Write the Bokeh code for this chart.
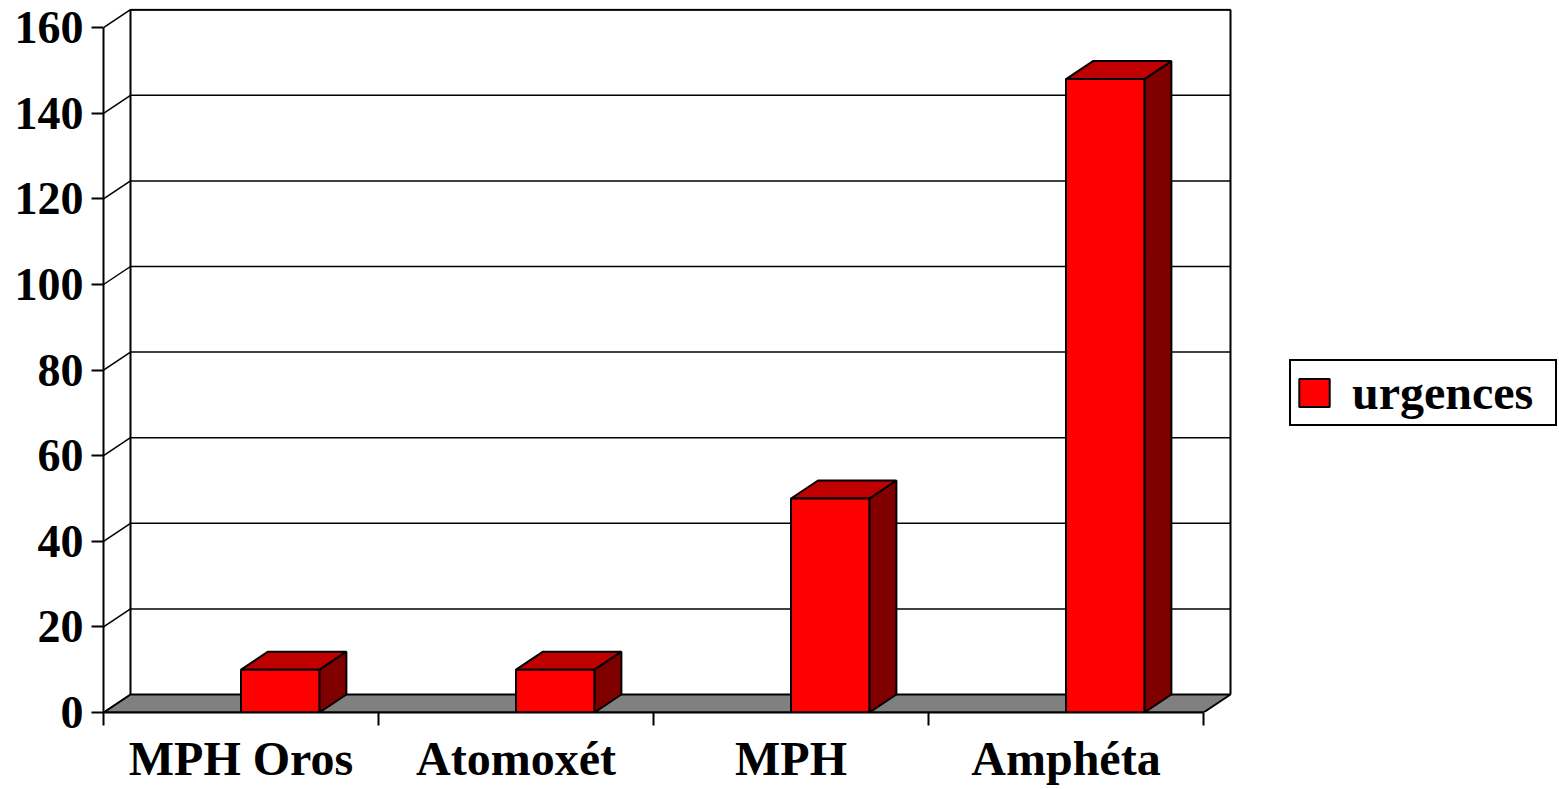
from bokeh.plotting import figure
from bokeh.models import FixedTicker, Range1d, Legend, LegendItem
from bokeh.embed import file_html
from bokeh.resources import INLINE

# ---- data ----
categories = ["MPH Oros", "Atomoxét", "MPH", "Amphéta"]
urgences = [10, 10, 50, 148]
y_ticks = [0, 20, 40, 60, 80, 100, 120, 140, 160]
series_name = "urgences"

# ---- layout (pixels) ----
W, H = 1559, 789
LEFT, BOTTOM, TOP = 103, 712, 8
PX_PER_CAT = 275.0          # width of one category slot on the front plane
PX_PER_UNIT = 4.28          # vertical pixels per value unit
DEPTH_X_PX, DEPTH_Y_PX = 27.0, 18.0   # oblique depth of the 3D box
BAR_START, BAR_END = 0.50, 0.785      # bar front face inside its slot

FONT = "Liberation Serif"
Y_FONT_SIZE = "46px"
X_FONT_SIZE = "48px"

dx = DEPTH_X_PX / PX_PER_CAT
dy = DEPTH_Y_PX / PX_PER_UNIT
n = len(categories)
ymax = y_ticks[-1]

p = figure(
    width=W, height=H, output_backend="svg", toolbar_location=None,
    x_range=Range1d(0, (W - LEFT) / PX_PER_CAT),
    y_range=Range1d(0, (BOTTOM - TOP) / PX_PER_UNIT),
    min_border_left=LEFT, min_border_right=0,
    min_border_top=TOP, min_border_bottom=H - BOTTOM,
    background_fill_color="white", border_fill_color="white",
)
p.outline_line_color = None
p.xgrid.visible = False
p.ygrid.visible = False

# floor
p.patch([0, n, n + dx, dx], [0, 0, dy, dy],
        fill_color="#808080", line_color="black", line_width=2)

# back wall gridlines
grid_vals = y_ticks[1:]
p.segment(x0=[dx] * len(grid_vals), y0=[v + dy for v in grid_vals],
          x1=[n + dx] * len(grid_vals), y1=[v + dy for v in grid_vals],
          line_color="black", line_width=1.5)
# back wall top edge and vertical edges
p.segment(x0=[dx, dx, n + dx], y0=[ymax + dy, dy, dy],
          x1=[n + dx, dx, n + dx], y1=[ymax + dy, ymax + dy, ymax + dy],
          line_color="black", line_width=2)
# side wall: diagonals from the front axis to the back wall
p.segment(x0=[0] * len(y_ticks), y0=y_ticks,
          x1=[dx] * len(y_ticks), y1=[v + dy for v in y_ticks],
          line_color="black", line_width=1.5)

# bars
lefts = [i + BAR_START for i in range(n)]
rights = [i + BAR_END for i in range(n)]
top_xs = [[l, r, r + dx, l + dx] for l, r in zip(lefts, rights)]
top_ys = [[v, v, v + dy, v + dy] for v in urgences]
side_xs = [[r, r, r + dx, r + dx] for r in rights]
side_ys = [[0, v, v + dy, dy] for v in urgences]

p.patches(side_xs, side_ys, fill_color="#800000", line_color="black", line_width=2)
p.patches(top_xs, top_ys, fill_color="#C00000", line_color="black", line_width=2)
front = p.quad(left=lefts, right=rights, bottom=[0] * n, top=urgences,
               fill_color="#FF0000", line_color="black", line_width=2)

# x axis: category names at slot centres, tick marks at slot edges
xa = p.xaxis[0]
xa.ticker = FixedTicker(ticks=[i + 0.5 for i in range(n)],
                        minor_ticks=list(range(n + 1)))
xa.major_label_overrides = {i + 0.5: c for i, c in enumerate(categories)}
xa.bounds = (0, n)
xa.axis_line_width = 2
xa.axis_line_color = "black"
xa.major_tick_out = 0
xa.major_tick_in = 0
xa.minor_tick_out = 13
xa.minor_tick_in = 0
xa.minor_tick_line_color = "black"
xa.minor_tick_line_width = 2
xa.major_label_standoff = 6
xa.major_label_text_font = FONT
xa.major_label_text_font_style = "bold"
xa.major_label_text_font_size = X_FONT_SIZE
xa.major_label_text_color = "black"

ya = p.yaxis[0]
ya.ticker = FixedTicker(ticks=y_ticks)
ya.bounds = (0, ymax)
ya.axis_line_width = 2
ya.axis_line_color = "black"
ya.major_tick_out = 12
ya.major_tick_in = 0
ya.major_tick_line_color = "black"
ya.major_tick_line_width = 2
ya.minor_tick_line_color = None
ya.major_label_standoff = 8
ya.major_label_text_font = FONT
ya.major_label_text_font_style = "bold"
ya.major_label_text_font_size = Y_FONT_SIZE
ya.major_label_text_color = "black"

legend = Legend(
    items=[LegendItem(label=series_name, renderers=[front])],
    location=(1186, 286),
    border_line_color="black", border_line_width=2, border_line_alpha=1.0,
    background_fill_color="white", background_fill_alpha=1.0,
    glyph_width=38, glyph_height=35,
    label_text_font=FONT, label_text_font_style="bold",
    label_text_font_size=X_FONT_SIZE, label_text_color="black",
    label_standoff=19, label_width=199,
    padding=4, margin=0, spacing=0,
)
p.add_layout(legend)

open("out.html", "w").write(file_html(p, INLINE))
